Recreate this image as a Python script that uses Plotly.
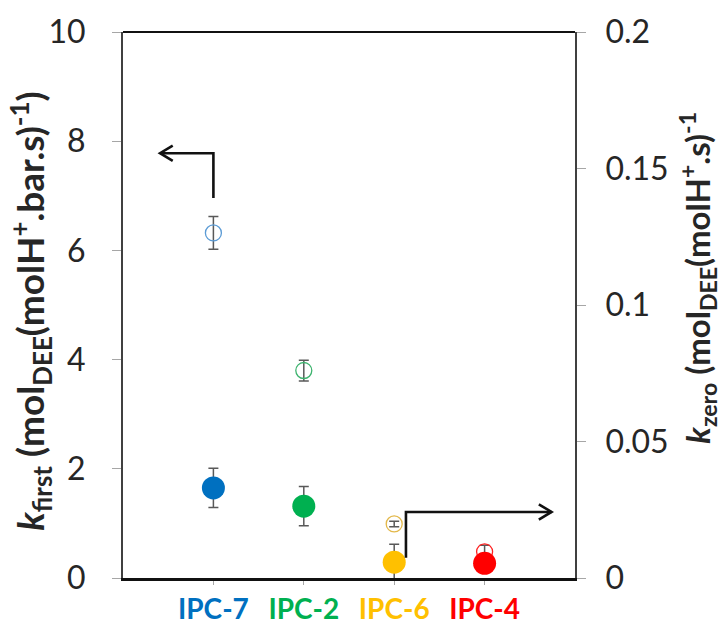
import plotly.graph_objects as go

# Catalysts (x positions 1..4) and their label colours
catalysts = ["IPC-7", "IPC-2", "IPC-6", "IPC-4"]
x_pos = [1, 2, 3, 4]
fill_colors = ["#0070C0", "#00B050", "#FFC000", "#FF0000"]
ring_colors = ["#5B9BD5", "#3DB36E", "#E3B84A", "#FF2020"]

# First-order rate constants (left axis, open markers)
k_first = [6.32, 3.80, 0.99, 0.48]
k_first_err = [0.30, 0.19, 0.05, 0.12]

# Zero-order rate constants (right axis, filled markers)
k_zero = [0.0330, 0.0263, 0.0058, 0.0054]
k_zero_err = [0.0072, 0.0072, 0.0066, 0.0010]

# Axis ticks
left_ticks = [0, 2, 4, 6, 8, 10]
right_ticks = [0, 0.05, 0.1, 0.15, 0.2]
right_ticktext = ["0", "0.05", "0.1", "0.15", "0.2"]

FONT = "Lato"
ERR_COLOR = "#595959"
TEXT_COLOR = "#262626"

fig = go.Figure()

fig.add_trace(go.Scatter(
    x=x_pos, y=k_first, mode="markers", yaxis="y",
    marker=dict(symbol="circle-open", size=16, color=ring_colors,
                line=dict(width=1.3, color=ring_colors)),
    error_y=dict(type="data", array=k_first_err, color=ERR_COLOR,
                 thickness=1.5, width=5),
    showlegend=False,
))

fig.add_trace(go.Scatter(
    x=x_pos, y=k_zero, mode="markers", yaxis="y2",
    marker=dict(symbol="circle", size=23, color=fill_colors,
                line=dict(width=0)),
    error_y=dict(type="data", array=k_zero_err, color=ERR_COLOR,
                 thickness=1.5, width=5),
    showlegend=False,
))

ticktext = [f"<b><span style='color:{c}'>{n}</span></b>"
            for n, c in zip(catalysts, fill_colors)]

fig.update_layout(
    width=723, height=626,
    margin=dict(l=123, r=148, t=32, b=48),
    paper_bgcolor="white", plot_bgcolor="white",
    font=dict(family=FONT, size=32, color=TEXT_COLOR),
    xaxis=dict(
        range=[0, 5], tickvals=x_pos, ticktext=ticktext,
        showgrid=False, zeroline=False, automargin=False,
        showline=True, linecolor="#111111", linewidth=3, mirror=False,
        ticks="outside", ticklen=4, tickcolor="#A6A6A6", tickwidth=1,
        tickfont=dict(family=FONT, size=28),
    ),
    yaxis=dict(
        range=[0, 10], tickvals=left_ticks,
        showgrid=False, zeroline=False, automargin=False,
        showline=True, linecolor="#404040", linewidth=2,
        ticks="outside", ticklen=9, tickcolor="#A6A6A6", tickwidth=1,
        ticklabelstandoff=20,
        tickfont=dict(family=FONT, size=32, color=TEXT_COLOR),
    ),
    yaxis2=dict(
        range=[0, 0.2], tickvals=right_ticks, ticktext=right_ticktext,
        overlaying="y", side="right",
        showgrid=False, zeroline=False, automargin=False,
        showline=True, linecolor="#404040", linewidth=2,
        ticks="outside", ticklen=9, tickcolor="#A6A6A6", tickwidth=1,
        ticklabelstandoff=13,
        tickfont=dict(family=FONT, size=32, color=TEXT_COLOR),
    ),
)

# top border of the frame
fig.add_shape(type="line", xref="paper", yref="paper", x0=0, x1=1, y0=1, y1=1,
              line=dict(color="#111111", width=2))

# Arrow from k_first points to the left axis
arrow_style = dict(color="#111111", width=2.6)
fig.add_shape(type="path", xref="x", yref="y",
              path="M 1 6.96 L 1 7.78 L 0.41 7.78", line=arrow_style)
fig.add_shape(type="path", xref="x", yref="y",
              path="M 0.55 7.92 L 0.41 7.78 L 0.55 7.64", line=arrow_style)

# Arrow from k_zero points to the right axis
fig.add_shape(type="path", xref="x", yref="y",
              path="M 3.13 0.37 L 3.13 1.21 L 4.74 1.21", line=arrow_style)
fig.add_shape(type="path", xref="x", yref="y",
              path="M 4.60 1.35 L 4.74 1.21 L 4.60 1.07", line=arrow_style)

# Axis titles
fig.add_annotation(
    xref="paper", yref="paper", x=-0.205, y=0.49, textangle=-90,
    showarrow=False, xanchor="center", yanchor="middle",
    text="<b><i>k</i><sub>first</sub> (mol<sub>DEE</sub>(molH<sup>+</sup>.bar.s)<sup>-1</sup>)</b>",
    font=dict(family=FONT, size=37, color=TEXT_COLOR),
)
fig.add_annotation(
    xref="paper", yref="paper", x=1.272, y=0.55, textangle=-90,
    showarrow=False, xanchor="center", yanchor="middle",
    text="<b><i>k</i><sub>zero</sub> (mol<sub>DEE</sub>(molH<sup>+</sup>.s)<sup>-1</sup></b>",
    font=dict(family=FONT, size=33, color=TEXT_COLOR),
)

fig.write_html("out.html")
